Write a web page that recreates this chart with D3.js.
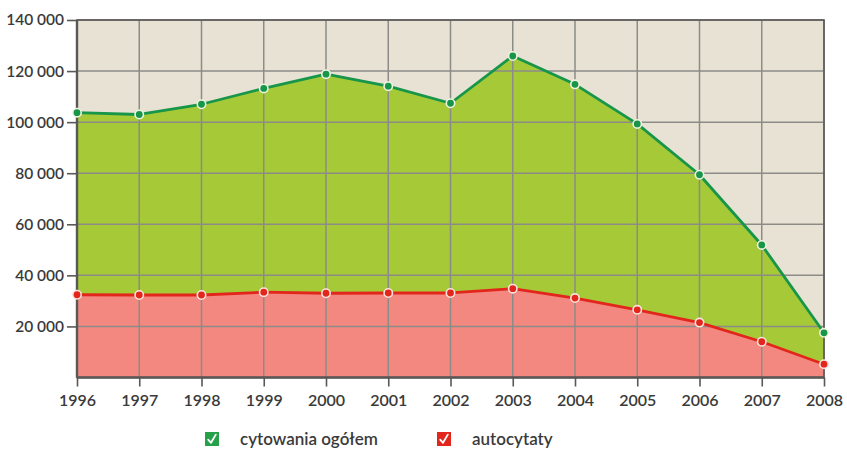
<!DOCTYPE html>
<html>
<head>
<meta charset="utf-8">
<script src="https://cdn.jsdelivr.net/npm/d3@7"></script>
<style>
  html, body { margin: 0; padding: 0; background: #ffffff; }
  svg { display: block; }
  text { font-family: Lato, "Open Sans", sans-serif; fill: #3a3a3a; }
</style>
</head>
<body>
<svg id="chart" width="847" height="452"></svg>
<script>
// Citation counts per year
const years = [1996, 1997, 1998, 1999, 2000, 2001, 2002, 2003, 2004, 2005, 2006, 2007, 2008];
const totalCitations = [103700, 103000, 107000, 113200, 118800, 114100, 107400, 125900, 114800, 99300, 79400, 51900, 17500];
const selfCitations = [32400, 32300, 32300, 33400, 33000, 33100, 33100, 34800, 31100, 26500, 21500, 14000, 5200];
const yTicks = [20000, 40000, 60000, 80000, 100000, 120000, 140000];
const seriesNames = ["cytowania ogółem", "autocytaty"];

const svg = d3.select("#chart");
const margin = { left: 77, right: 23, top: 20, bottom: 74 };
const W = 847, H = 452;

const x = d3.scaleLinear().domain([1996, 2008]).range([margin.left, W - margin.right]);
const y = d3.scaleLinear().domain([0, 140000]).range([H - margin.bottom - 0.5, margin.top]);

const colors = {
  bg: "#e7e2d3",
  greenFill: "#a5c937",
  greenLine: "#17964a",
  redFill: "#f28880",
  redLine: "#e3261c",
  grid: "#8d8b88",
  frame: "#5a5856"
};

// plot background
svg.append("rect")
  .attr("x", x(1996)).attr("y", y(140000))
  .attr("width", x(2008) - x(1996)).attr("height", y(0) - y(140000))
  .attr("fill", colors.bg);

const rows = years.map((yr, i) => ({ yr, total: totalCitations[i], self: selfCitations[i] }));

// total citations area
svg.append("path")
  .datum(rows)
  .attr("fill", colors.greenFill)
  .attr("d", d3.area().x(d => x(d.yr)).y0(y(0)).y1(d => y(d.total)));

// self-citations area
svg.append("path")
  .datum(rows)
  .attr("fill", colors.redFill)
  .attr("d", d3.area().x(d => x(d.yr)).y0(y(0)).y1(d => y(d.self)));

// grid lines
const grid = svg.append("g");
grid.selectAll("line.h").data(yTicks).join("line")
  .attr("x1", x(1996)).attr("x2", x(2008))
  .attr("y1", d => y(d)).attr("y2", d => y(d))
  .attr("stroke", colors.grid).attr("stroke-width", 1.5);
grid.selectAll("line.v").data(years).join("line")
  .attr("x1", d => x(d)).attr("x2", d => x(d))
  .attr("y1", y(0)).attr("y2", y(140000))
  .attr("stroke", colors.grid).attr("stroke-width", 1.5);

// series lines
svg.append("path").datum(rows)
  .attr("fill", "none").attr("stroke", colors.greenLine).attr("stroke-width", 2.8)
  .attr("stroke-linejoin", "round")
  .attr("d", d3.line().x(d => x(d.yr)).y(d => y(d.total)));
svg.append("path").datum(rows)
  .attr("fill", "none").attr("stroke", colors.redLine).attr("stroke-width", 2.8)
  .attr("stroke-linejoin", "round")
  .attr("d", d3.line().x(d => x(d.yr)).y(d => y(d.self)));

// frame
svg.append("rect")
  .attr("x", x(1996)).attr("y", y(140000))
  .attr("width", x(2008) - x(1996)).attr("height", y(0) - y(140000))
  .attr("fill", "none").attr("stroke", colors.frame).attr("stroke-width", 1.6);
svg.append("line")
  .attr("x1", x(1996)).attr("x2", x(2008)).attr("y1", y(0)).attr("y2", y(0))
  .attr("stroke", colors.frame).attr("stroke-width", 2.4);
svg.append("line")
  .attr("x1", x(1996)).attr("x2", x(1996)).attr("y1", y(0)).attr("y2", y(140000))
  .attr("stroke", colors.frame).attr("stroke-width", 2.4);

// markers
svg.append("g").selectAll("circle").data(rows).join("circle")
  .attr("cx", d => x(d.yr)).attr("cy", d => y(d.total)).attr("r", 4.2)
  .attr("fill", colors.greenLine).attr("stroke", "#eef3df").attr("stroke-width", 1.6);
svg.append("g").selectAll("circle").data(rows).join("circle")
  .attr("cx", d => x(d.yr)).attr("cy", d => y(d.self)).attr("r", 4.2)
  .attr("fill", colors.redLine).attr("stroke", "#fbe3de").attr("stroke-width", 1.6);

// axes (thousands separated by a space)
const fmt = v => d3.format(",")(v).replace(/,/g, " ");
const yAxis = d3.axisLeft(y).tickValues(yTicks).tickSize(10).tickPadding(3).tickFormat(fmt);
const gy = svg.append("g").attr("transform", `translate(${x(1996)},0)`).call(yAxis);
gy.select(".domain").remove();
gy.selectAll(".tick line").attr("stroke", colors.frame).attr("stroke-width", 1.6);
gy.selectAll(".tick text").attr("font-size", 15.5).attr("font-weight", 600).attr("fill", "#3a3a3a");

const xAxis = d3.axisBottom(x).tickValues(years).tickSize(9).tickPadding(8).tickFormat(d3.format("d"));
const gx = svg.append("g").attr("transform", `translate(0,${y(0)})`).call(xAxis);
gx.select(".domain").remove();
gx.selectAll(".tick line").attr("stroke", colors.frame).attr("stroke-width", 1.6);
gx.selectAll(".tick text").attr("font-size", 16).attr("font-weight", 600).attr("fill", "#3a3a3a");

// legend
const legend = svg.append("g");
const legendItems = [
  { name: seriesNames[0], color: "#27a04b", x: 205 },
  { name: seriesNames[1], color: "#e3261c", x: 437 }
];
legendItems.forEach(it => {
  const g = legend.append("g").attr("transform", `translate(${it.x},432)`);
  g.append("rect").attr("width", 14).attr("height", 14).attr("fill", it.color);
  g.append("path").attr("d", "M3.2,7.6 L6,10.8 L10.8,2.6")
    .attr("fill", "none").attr("stroke", "#fff").attr("stroke-width", 1.8)
    .attr("stroke-linecap", "round").attr("stroke-linejoin", "round");
  g.append("text").attr("x", 35).attr("y", 13)
    .attr("font-size", 17).attr("font-weight", 600).text(it.name);
});
</script>
</body>
</html>
